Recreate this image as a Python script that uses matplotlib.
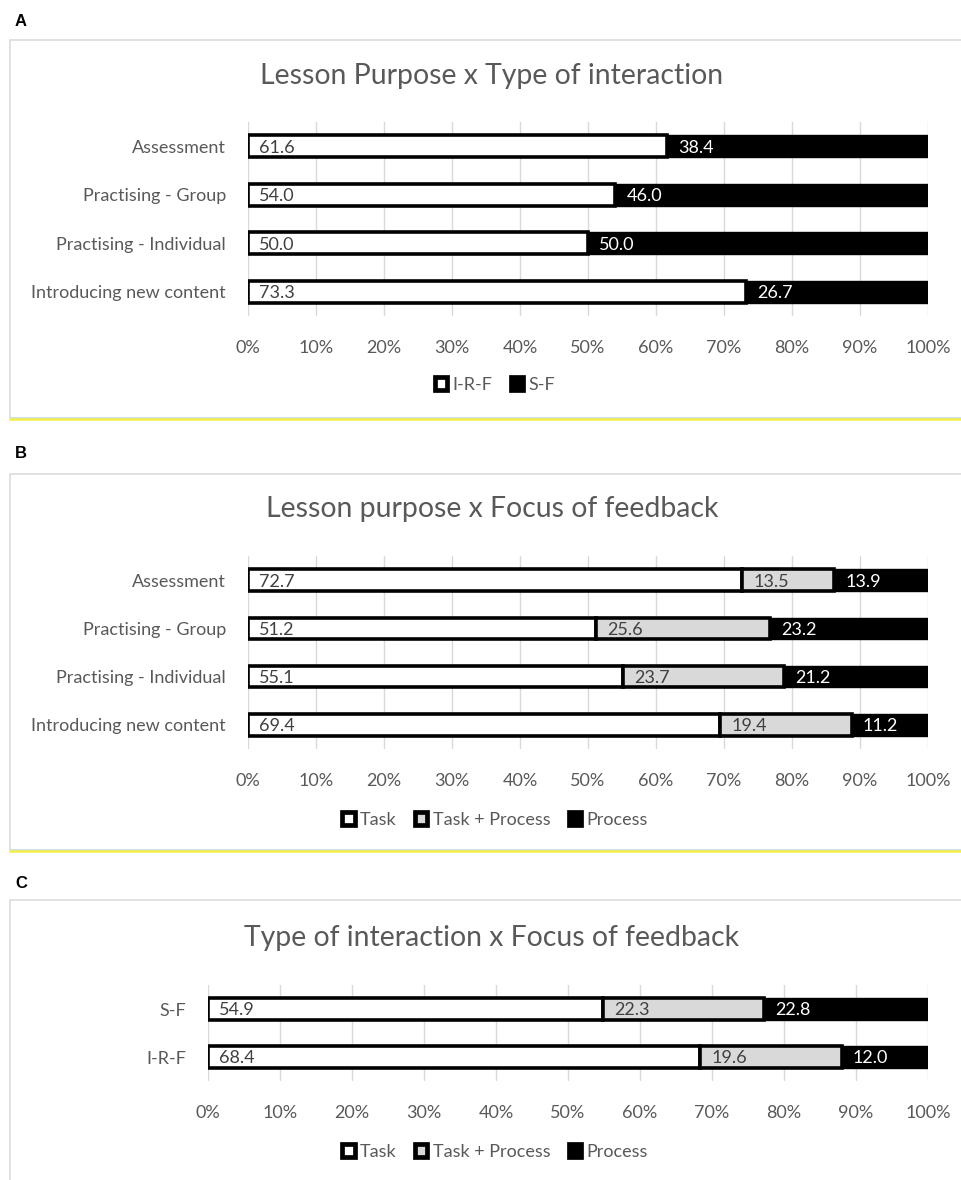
import matplotlib
matplotlib.use('Agg')
import matplotlib.pyplot as plt
from matplotlib.patches import Patch, Rectangle
from matplotlib.lines import Line2D
import numpy as np

plt.rcParams['font.family'] = ['Lato', 'DejaVu Sans']

# data
purpose_cats = ['Introducing new content', 'Practising - Individual', 'Practising - Group', 'Assessment']
irf = [73.3, 50.0, 54.0, 61.6]
sf = [26.7, 50.0, 46.0, 38.4]

task_b = [69.4, 55.1, 51.2, 72.7]
taskproc_b = [19.4, 23.7, 25.6, 13.5]
proc_b = [11.2, 21.2, 23.2, 13.9]

inter_cats = ['I-R-F', 'S-F']
task_c = [68.4, 54.9]
taskproc_c = [19.6, 22.3]
proc_c = [12.0, 22.8]

ticks = np.arange(0, 101, 10)
tick_labels = ['%d%%' % t for t in ticks]

W, H = 962, 1180
fig = plt.figure(figsize=(W / 100, H / 100), dpi=100)

GREY_TXT = '#595959'
LBL_TXT = '#404040'
FS = 13
styles = {
    'white': dict(fc='white', ec='black', lw=2.6, txt=LBL_TXT),
    'grey': dict(fc='#d9d9d9', ec='black', lw=2.6, txt=LBL_TXT),
    'black': dict(fc='black', ec='black', lw=1.0, txt='white'),
}


def fx(x):
    return x / W


def fy(y):
    return 1 - y / H


def frame(x0, y0, x1, y1, yellow=False):
    fig.patches.append(Rectangle((fx(x0), fy(y1)), fx(x1 - x0), y1 / H - y0 / H,
                                 transform=fig.transFigure, fill=False,
                                 ec='#dcdcdc', lw=1.2, zorder=0))
    if yellow:
        fig.lines.append(Line2D([fx(x0), 1], [fy(y1 + 1), fy(y1 + 1)], transform=fig.transFigure,
                                color='#f2ee4a', lw=1.8))
        fig.lines.append(Line2D([fx(x0), 1], [fy(y1 - 1), fy(y1 - 1)], transform=fig.transFigure,
                                color='#cfe0e0', lw=0.8))


def panel(left, right, top, bottom, cats, series, names, title, title_y, legend_y):
    ax = fig.add_axes([fx(left), fy(bottom), fx(right - left), (bottom - top) / H])
    y = np.arange(len(cats))
    base = np.zeros(len(cats))
    for vals, st in series:
        s = styles[st]
        ax.barh(y, vals, left=base, height=0.45, color=s['fc'], edgecolor=s['ec'],
                linewidth=s['lw'], zorder=3)
        for yi, b, v in zip(y, base, vals):
            ax.annotate('%.1f' % v, (b, yi), xytext=(8, -1), textcoords='offset points',
                        va='center', ha='left', fontsize=FS, color=s['txt'], zorder=4)
        base = base + np.array(vals)
    ax.set_xlim(0, 100)
    ax.set_ylim(-0.5, len(cats) - 0.5)
    ax.set_xticks(ticks)
    ax.set_xticklabels(tick_labels)
    ax.set_yticks(y)
    ax.set_yticklabels(cats)
    ax.tick_params(axis='x', length=0, pad=17, labelsize=FS, labelcolor=GREY_TXT)
    ax.tick_params(axis='y', length=0, pad=16, labelsize=FS, labelcolor=GREY_TXT)
    ax.grid(axis='x', color='#d9d9d9', lw=1.0, zorder=0)
    for sp in ax.spines.values():
        sp.set_visible(False)
    fig.text(fx(492), fy(title_y), title, ha='center', va='center', fontsize=20.4, color=GREY_TXT)
    handles = [Patch(facecolor=styles[st]['fc'], edgecolor='black', linewidth=3.4,
                     joinstyle='round')
               for _, st in series]
    fig.legend(handles, names, loc='center', bbox_to_anchor=(fx(495), fy(legend_y)),
               ncol=len(names), frameon=False, fontsize=FS, labelcolor=GREY_TXT,
               handlelength=0.7, handleheight=0.7, handletextpad=0.3, columnspacing=1.0)
    return ax


# panel letters
for letter, yy in [('A', 21), ('B', 453), ('C', 883)]:
    fig.text(fx(15), fy(yy), letter, fontsize=12, fontweight='bold',
             family='Liberation Sans', ha='left', va='center')

frame(10, 40, 970, 418, yellow=True)
frame(10, 474, 970, 850, yellow=True)
frame(10, 900, 970, 1190)

panel(248, 928, 122, 316, purpose_cats,
      [(irf, 'white'), (sf, 'black')], ['I-R-F', 'S-F'],
      'Lesson Purpose x Type of interaction', 76, 385)

panel(248, 928, 556, 749, purpose_cats,
      [(task_b, 'white'), (taskproc_b, 'grey'), (proc_b, 'black')],
      ['Task', 'Task + Process', 'Process'],
      'Lesson purpose x Focus of feedback', 509, 820)

panel(208, 928, 985, 1081, inter_cats,
      [(task_c, 'white'), (taskproc_c, 'grey'), (proc_c, 'black')],
      ['Task', 'Task + Process', 'Process'],
      'Type of interaction x Focus of feedback', 938, 1152)

fig.savefig('out.png', dpi=100)
